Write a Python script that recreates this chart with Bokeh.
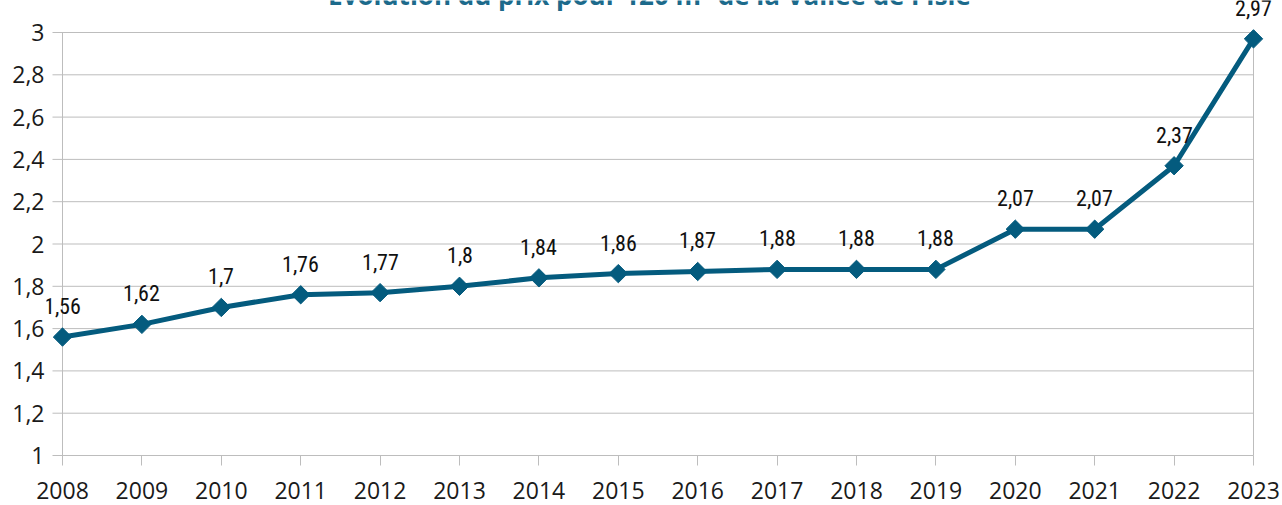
from bokeh.plotting import figure
from bokeh.models import Range1d, FixedTicker, ColumnDataSource, LabelSet, Label
from bokeh.core.properties import value
from bokeh.embed import file_html
from bokeh.resources import INLINE

# ---- data ----
years = [2008, 2009, 2010, 2011, 2012, 2013, 2014, 2015, 2016, 2017, 2018, 2019, 2020, 2021, 2022, 2023]
prices = [1.56, 1.62, 1.7, 1.76, 1.77, 1.8, 1.84, 1.86, 1.87, 1.88, 1.88, 1.88, 2.07, 2.07, 2.37, 2.97]
price_labels = ["1,56", "1,62", "1,7", "1,76", "1,77", "1,8", "1,84", "1,86", "1,87", "1,88", "1,88", "1,88",
                "2,07", "2,07", "2,37", "2,97"]
y_ticks = [1, 1.2, 1.4, 1.6, 1.8, 2, 2.2, 2.4, 2.6, 2.8, 3]
y_tick_labels = ["1", "1,2", "1,4", "1,6", "1,8", "2", "2,2", "2,4", "2,6", "2,8", "3"]
title_text = "Évolution du prix pour 120 m³ de la Vallée de l'Isle"

# ---- layout (pixels) ----
W, H = 1282, 505
PL, PR, PT, PB = 62, 1253, 32, 455          # plot area edges
FL, FR, FT, FB = 46, W, 0, 465              # drawing frame edges
TICK = 10
x0, x1 = years[0], years[-1]
y0, y1 = y_ticks[0], y_ticks[-1]
xpp = (x1 - x0) / (PR - PL)
ypp = (y1 - y0) / (PB - PT)

LINE = "#045b7e"
GRID = "#bdbdbd"
TITLE = "#1c6a8b"

p = figure(width=W, height=H, output_backend="svg", toolbar_location=None,
           frame_width=FR - FL, frame_height=FB - FT,
           min_border_left=FL, min_border_right=W - FR,
           min_border_top=FT, min_border_bottom=H - FB,
           x_range=Range1d(x0 - (PL - FL) * xpp, x1 + (FR - PR) * xpp),
           y_range=Range1d(y0 - (FB - PB) * ypp, y1 + (PT - FT) * ypp))
p.title.visible = False
p.outline_line_color = None
p.xgrid.visible = False
p.ygrid.visible = False
p.background_fill_color = "white"
p.border_fill_color = "white"

# grid lines (with their outer tick marks) and plot-area borders
p.segment(x0=[x0 - TICK * xpp] * len(y_ticks), x1=[x1] * len(y_ticks), y0=y_ticks, y1=y_ticks,
          line_color=GRID, line_width=1)
p.segment(x0=[x0, x1], x1=[x0, x1], y0=[y0, y0], y1=[y1, y1], line_color=GRID, line_width=1)

# axes
ya = p.yaxis[0]
ya.ticker = FixedTicker(ticks=y_ticks)
ya.major_label_overrides = {t: l for t, l in zip(y_ticks, y_tick_labels)}
ya.axis_line_color = None
ya.major_tick_line_color = None
ya.major_tick_in = 0
ya.major_tick_out = 0
ya.minor_tick_line_color = None
ya.major_label_standoff = 2
ya.major_label_text_font = "Open Sans"
ya.major_label_text_font_size = "23px"
ya.major_label_text_color = "#1a1a1a"

xa = p.xaxis[0]
xa.ticker = FixedTicker(ticks=years)
xa.major_label_overrides = {y: str(y) for y in years}
xa.axis_line_color = None
xa.major_tick_in = TICK
xa.major_tick_out = 0
xa.major_tick_line_color = GRID
xa.minor_tick_line_color = None
xa.major_label_standoff = 16
xa.major_label_text_font = "Open Sans"
xa.major_label_text_font_size = "23px"
xa.major_label_text_color = "#1a1a1a"

src = ColumnDataSource(dict(x=years, y=prices, lab=price_labels))
p.line("x", "y", source=src, line_color=LINE, line_width=5)
p.scatter("x", "y", source=src, marker="square", angle=0.7853981634, size=13,
          fill_color=LINE, line_color=LINE)

labels = LabelSet(x="x", y="y", text="lab", source=src, y_offset=23,
                  text_align="center", text_baseline="alphabetic",
                  text_font=value("CondLabels"), text_font_size="22px",
                  text_color="#111111")
p.add_layout(labels)

title = Label(x=x0 + (649 - PL) * xpp, y=y1 + (PT + 6) * ypp, text=title_text,
              text_align="center", text_baseline="alphabetic", text_font="Open Sans",
              text_font_style="bold", text_font_size="26px", text_color=TITLE)
p.add_layout(title)

font_css = """<style>
@font-face { font-family: "CondLabels";
  src: local("Roboto Condensed"), local("RobotoCondensed-Regular"),
       local("DejaVu Sans Condensed"), local("DejaVuSansCondensed"),
       local("Liberation Sans Narrow"), local("LiberationSansNarrow-Regular"),
       local("Noto Sans Condensed"), local("NotoSans-Condensed"),
       local("Roboto"), local("Roboto-Regular"); }
</style>"""
html = file_html(p, INLINE)
html = html.replace("<head>", "<head>" + font_css, 1)
open("out.html", "w").write(html)
